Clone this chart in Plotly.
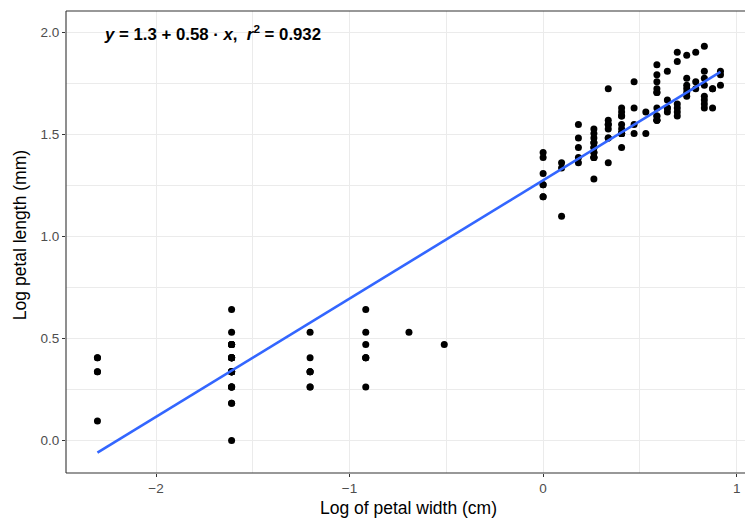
import numpy as np
import plotly.graph_objects as go

# Iris petal measurements (cm): setosa, versicolor, virginica
petal_length = [
    1.4, 1.4, 1.3, 1.5, 1.4, 1.7, 1.4, 1.5, 1.4, 1.5, 1.5, 1.6, 1.4, 1.1, 1.2, 1.5, 1.3, 1.4, 1.7, 1.5,
    1.7, 1.5, 1.0, 1.7, 1.9, 1.6, 1.6, 1.5, 1.4, 1.6, 1.6, 1.5, 1.5, 1.4, 1.5, 1.2, 1.3, 1.4, 1.3, 1.5,
    1.3, 1.3, 1.3, 1.6, 1.9, 1.4, 1.6, 1.4, 1.5, 1.4,
    4.7, 4.5, 4.9, 4.0, 4.6, 4.5, 4.7, 3.3, 4.6, 3.9, 3.5, 4.2, 4.0, 4.7, 3.6, 4.4, 4.5, 4.1, 4.5, 3.9,
    4.8, 4.0, 4.9, 4.7, 4.3, 4.4, 4.8, 5.0, 4.5, 3.5, 3.8, 3.7, 3.9, 5.1, 4.5, 4.5, 4.7, 4.4, 4.1, 4.0,
    4.4, 4.6, 4.0, 3.3, 4.2, 4.2, 4.2, 4.3, 3.0, 4.1,
    6.0, 5.1, 5.9, 5.6, 5.8, 6.6, 4.5, 6.3, 5.8, 6.1, 5.1, 5.3, 5.5, 5.0, 5.1, 5.3, 5.5, 6.7, 6.9, 5.0,
    5.7, 4.9, 6.7, 4.9, 5.7, 6.0, 4.8, 4.9, 5.6, 5.8, 6.1, 6.4, 5.6, 5.1, 5.6, 6.1, 5.6, 5.5, 4.8, 5.4,
    5.6, 5.1, 5.1, 5.9, 5.7, 5.2, 5.0, 5.2, 5.4, 5.1,
]
petal_width = [
    0.2, 0.2, 0.2, 0.2, 0.2, 0.4, 0.3, 0.2, 0.2, 0.1, 0.2, 0.2, 0.1, 0.1, 0.2, 0.4, 0.4, 0.3, 0.3, 0.3,
    0.2, 0.4, 0.2, 0.5, 0.2, 0.2, 0.4, 0.2, 0.2, 0.2, 0.2, 0.4, 0.1, 0.2, 0.2, 0.2, 0.2, 0.1, 0.2, 0.2,
    0.3, 0.3, 0.2, 0.6, 0.4, 0.3, 0.2, 0.2, 0.2, 0.2,
    1.4, 1.5, 1.5, 1.3, 1.5, 1.3, 1.6, 1.0, 1.3, 1.4, 1.0, 1.5, 1.0, 1.4, 1.3, 1.4, 1.5, 1.0, 1.5, 1.1,
    1.8, 1.3, 1.5, 1.2, 1.3, 1.4, 1.4, 1.7, 1.5, 1.0, 1.1, 1.0, 1.2, 1.6, 1.5, 1.6, 1.5, 1.3, 1.3, 1.3,
    1.2, 1.4, 1.2, 1.0, 1.3, 1.2, 1.3, 1.3, 1.1, 1.3,
    2.5, 1.9, 2.1, 1.8, 2.2, 2.1, 1.7, 1.8, 1.8, 2.5, 2.0, 1.9, 2.1, 2.0, 2.4, 2.3, 1.8, 2.2, 2.3, 1.5,
    2.3, 2.0, 2.0, 1.8, 2.1, 1.8, 1.8, 1.8, 2.1, 1.6, 1.9, 2.0, 2.2, 1.5, 1.4, 2.3, 2.4, 1.8, 1.8, 2.1,
    2.4, 2.3, 1.9, 2.3, 2.5, 2.3, 1.9, 2.0, 2.3, 1.8,
]

x_ticks = [-2, -1, 0, 1]
x_tick_labels = ["\u22122", "\u22121", "0", "1"]
y_ticks = [0.0, 0.5, 1.0, 1.5, 2.0]
y_tick_labels = ["0.0", "0.5", "1.0", "1.5", "2.0"]

x = np.log(np.array(petal_width))
y = np.log(np.array(petal_length))

# Least-squares fit of log length on log width
slope, intercept = np.polyfit(x, y, 1)
r2 = np.corrcoef(x, y)[0, 1] ** 2
x_line = np.array([x.min(), x.max()])
y_line = intercept + slope * x_line

eq_text = (f"<b><i>y</i> = {intercept:.2g} + {slope:.2g} · <i>x</i>,  "
           f"<i>r</i><sup>2</sup> = {r2:.3f}</b>")

FONT = "Liberation Sans, Arial, sans-serif"
GRID = "#ebebeb"
AXIS = "#333333"

# Plot-area geometry in pixels
L, T, B, W, H = 66, 11, 472.7, 745, 521
PW, PH = W - L, B - T

fig = go.Figure()
fig.add_trace(go.Scatter(
    x=x, y=y, mode="markers",
    marker=dict(color="black", size=7, line=dict(width=0)),
    hoverinfo="skip", showlegend=False,
))
fig.add_trace(go.Scatter(
    x=x_line, y=y_line, mode="lines",
    line=dict(color="#3366FF", width=2.6),
    hoverinfo="skip", showlegend=False,
))

axis_common = dict(
    showgrid=True, gridcolor=GRID, gridwidth=1.1,
    zeroline=False, showline=False,
    ticks="outside", ticklen=3, tickwidth=1, tickcolor=AXIS,
    tickfont=dict(family=FONT, size=13.5, color="#4d4d4d"),
    minor=dict(showgrid=True, gridcolor=GRID, gridwidth=0.55, ticks=""),
)

fig.update_layout(
    width=W, height=H,
    margin=dict(l=L, r=0, t=T, b=H - B),
    paper_bgcolor="white", plot_bgcolor="white",
    font=dict(family=FONT),
    xaxis=dict(range=[-2.465, 1.043], tickvals=x_ticks, ticktext=x_tick_labels,
               minor_dtick=0.5, minor_tick0=0.5, **axis_common),
    yaxis=dict(range=[-0.159, 2.104], tickvals=y_ticks, ticktext=y_tick_labels,
               minor_dtick=0.5, minor_tick0=0.25, **axis_common),
    shapes=[
        dict(type="line", xref="paper", yref="paper", x0=0, x1=0, y0=0, y1=1,
             line=dict(color=AXIS, width=1.1)),
        dict(type="line", xref="paper", yref="paper", x0=0, x1=1, y0=0, y1=0,
             line=dict(color=AXIS, width=1.1)),
        dict(type="line", xref="paper", yref="paper", x0=0, x1=1, y0=1, y1=1,
             line=dict(color=AXIS, width=1.1)),
    ],
    annotations=[
        dict(text=eq_text, xref="paper", yref="y", x=(102 - L) / PW, y=1.995,
             xanchor="left", yanchor="middle", showarrow=False,
             font=dict(family=FONT, size=16.8, color="black")),
        dict(text="Log of petal width (cm)", xref="paper", yref="paper",
             x=(408.5 - L) / PW, y=-(508 - B) / PH, xanchor="center", yanchor="middle",
             showarrow=False, font=dict(family=FONT, size=17.5, color="black")),
        dict(text="Log petal length (mm)", xref="paper", yref="paper",
             x=-(L - 20) / PW, y=(B - 235) / PH, xanchor="center", yanchor="middle",
             textangle=-90, showarrow=False, font=dict(family=FONT, size=17.5, color="black")),
    ],
)

fig.write_html("out.html")
